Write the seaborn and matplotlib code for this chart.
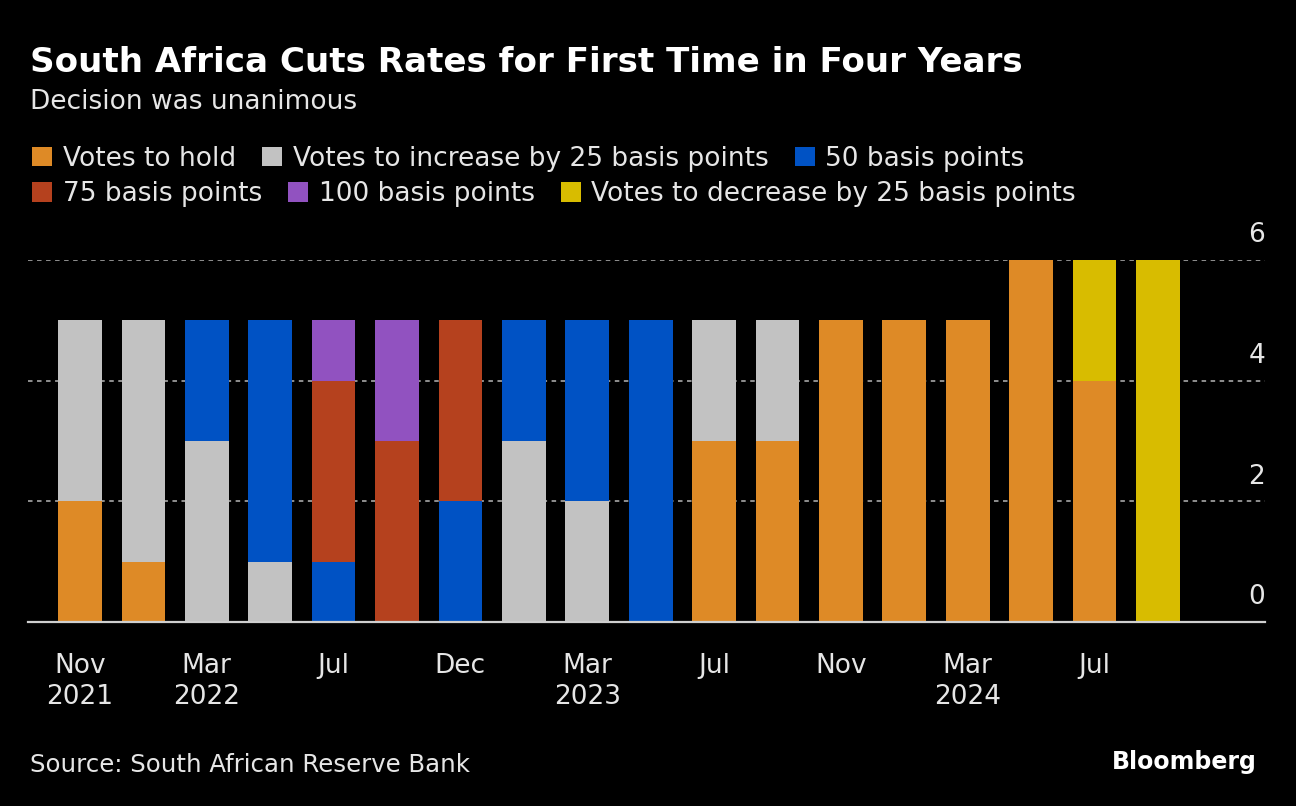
import numpy as np
import pandas as pd
import matplotlib
matplotlib.use("Agg")
import matplotlib.pyplot as plt
import matplotlib.transforms as mtransforms
from matplotlib.patches import Patch
import seaborn as sns

# SARB MPC meetings, Nov 2021 - Sep 2024
meetings = ["Nov 2021", "Jan 2022", "Mar 2022", "May 2022", "Jul 2022", "Sep 2022",
            "Nov 2022", "Jan 2023", "Mar 2023", "May 2023", "Jul 2023", "Sep 2023",
            "Nov 2023", "Jan 2024", "Mar 2024", "May 2024", "Jul 2024", "Sep 2024"]
hold    = [2, 1, 0, 0, 0, 0, 0, 0, 0, 0, 3, 3, 5, 5, 5, 6, 4, 0]
inc25   = [3, 4, 3, 1, 0, 0, 0, 3, 2, 0, 2, 2, 0, 0, 0, 0, 0, 0]
inc50   = [0, 0, 2, 4, 1, 0, 2, 2, 3, 5, 0, 0, 0, 0, 0, 0, 0, 0]
inc75   = [0, 0, 0, 0, 3, 3, 3, 0, 0, 0, 0, 0, 0, 0, 0, 0, 0, 0]
inc100  = [0, 0, 0, 0, 1, 2, 0, 0, 0, 0, 0, 0, 0, 0, 0, 0, 0, 0]
dec25   = [0, 0, 0, 0, 0, 0, 0, 0, 0, 0, 0, 0, 0, 0, 0, 0, 2, 6]

series_names = ["Votes to hold", "Votes to increase by 25 basis points", "50 basis points",
                "75 basis points", "100 basis points", "Votes to decrease by 25 basis points"]
series_colors = ["#DE8A26", "#C2C2C2", "#0052C4", "#B5411E", "#9152C0", "#D8BC00"]

tick_pos = [0, 2, 4, 6, 8, 10, 12, 14, 16]
tick_labels = ["Nov\n2021", "Mar\n2022", "Jul", "Dec", "Mar\n2023", "Jul", "Nov", "Mar\n2024", "Jul"]

df = pd.DataFrame({"meeting": meetings, "hold": hold, "inc25": inc25, "inc50": inc50,
                   "inc75": inc75, "inc100": inc100, "dec25": dec25})
cols = ["hold", "inc25", "inc50", "inc75", "inc100", "dec25"]

sns.set_style("dark")
plt.rcParams["font.family"] = ["DejaVu Sans"]
txt = "#E6E6E6"

fig = plt.figure(figsize=(12.96, 8.06), dpi=100, facecolor="black")
ax = fig.add_axes([0.0216, 0.2283, 0.9545, 0.4491])
ax.set_facecolor("black")

# stacked bars, one seaborn layer per vote type
bottom = np.zeros(len(df))
for col, color in zip(cols, series_colors):
    sns.barplot(data=df, x="meeting", y=col, order=meetings, color=color, width=0.69,
                bottom=bottom, linewidth=0, saturation=1, errorbar=None, ax=ax, zorder=3)
    bottom = bottom + df[col].to_numpy()

ax.set_xlim(-0.82, 18.69)
ax.set_ylim(0, 6)
ax.set_xlabel("")
ax.set_ylabel("")

# y axis: labels on right, sitting above the dotted gridlines
ax.set_yticks([0, 2, 4, 6])
ax.yaxis.tick_right()
ax.tick_params(axis="y", length=0, pad=0, labelsize=19, labelcolor=txt)
for lab in ax.get_yticklabels():
    lab.set_horizontalalignment("right")
    lab.set_verticalalignment("bottom")
    lab.set_transform(lab.get_transform() + mtransforms.ScaledTranslation(0, 8.5 / 72, fig.dpi_scale_trans))
ax.grid(axis="y", color="#9A9A9A", linestyle=(0, (2.5, 2.5)), linewidth=1.3, zorder=0)
ax.grid(axis="x", visible=False)

ax.set_xticks(tick_pos)
ax.set_xticklabels(tick_labels, linespacing=1.25)
ax.tick_params(axis="x", length=9, width=1, color="#BDBDBD", pad=13, labelsize=19, labelcolor=txt)

for s in ["top", "left", "right"]:
    ax.spines[s].set_visible(False)
ax.spines["bottom"].set_color("#CFCFCF")
ax.spines["bottom"].set_linewidth(1.6)
ax.spines["bottom"].set_zorder(4)

fig.text(0.023, 0.923, "South Africa Cuts Rates for First Time in Four Years", color="white",
         fontsize=24.6, fontweight="bold", va="center")
fig.text(0.023, 0.874, "Decision was unanimous", color=txt, fontsize=19, va="center")

handles = [Patch(facecolor=c, edgecolor="none") for c in series_colors]
leg_kw = dict(frameon=False, ncol=3, fontsize=19, labelcolor=txt, handlelength=0.75,
              handleheight=0.75, handletextpad=0.4, columnspacing=1.0, borderpad=0, borderaxespad=0)
fig.legend(handles[:3], series_names[:3], loc="center left", bbox_to_anchor=(0.025, 0.803), **leg_kw)
fig.legend(handles[3:], series_names[3:], loc="center left", bbox_to_anchor=(0.025, 0.759), **leg_kw)

fig.text(0.023, 0.051, "Source: South African Reserve Bank", color=txt, fontsize=17.6, va="center")
fig.text(0.970, 0.054, "Bloomberg", color="white", fontsize=17, fontweight="bold",
         ha="right", va="center")

fig.savefig("out.png", dpi=100, facecolor="black")
